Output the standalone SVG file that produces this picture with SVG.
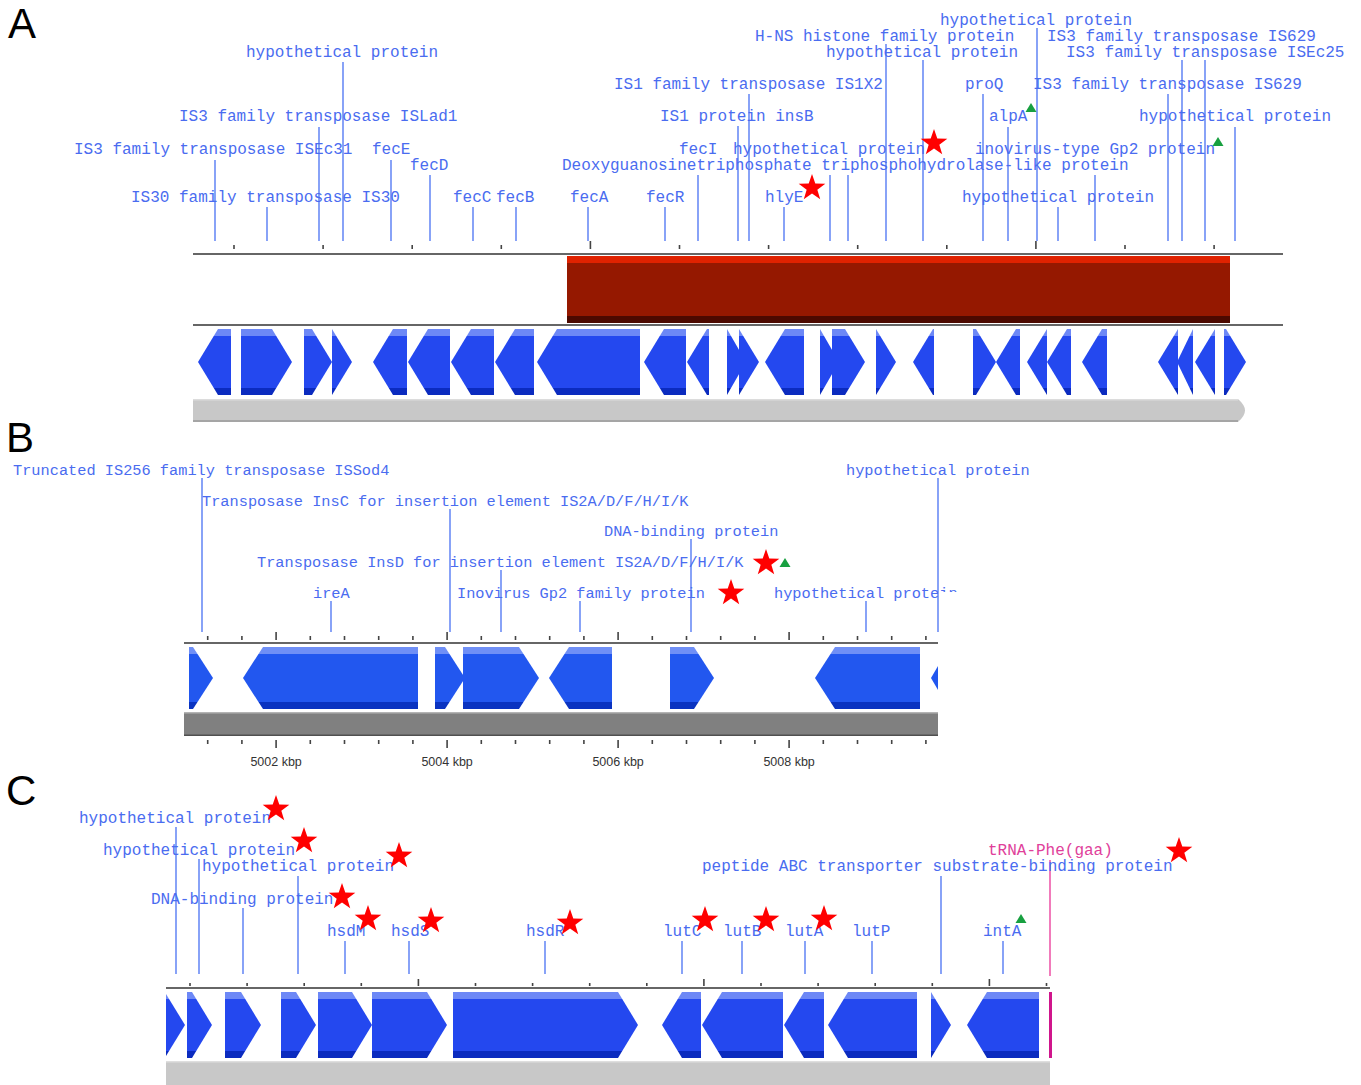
<svg xmlns="http://www.w3.org/2000/svg" width="1361" height="1085" viewBox="0 0 1361 1085">
<style>
.lbl{font-family:"Liberation Mono","Courier New",monospace;font-size:16px;fill:#4a6cf0}
.lb{font-size:15.3px}
.pink{fill:#e0409a}
.lead{stroke:#6b8cf5;stroke-width:1.6;fill:none}
.leadp{stroke:#ee5aaa;stroke-width:1.6;fill:none}
.tick{stroke:#444;stroke-width:1.6;fill:none}
.axis{stroke:#666;stroke-width:2;fill:none}
.panel{font-family:"Liberation Sans",Arial,sans-serif;font-size:42px;fill:#000}
.kbp{font-family:"Liberation Sans",Arial,sans-serif;font-size:12.5px;fill:#333;text-anchor:middle}
.ga{fill:url(#gA)}
.gb{fill:url(#gB)}
.gc{fill:url(#gC)}
.star{fill:#ff0000}
.tri{fill:#18a040}
</style>
<defs>
<linearGradient id="gA" gradientUnits="userSpaceOnUse" x1="0" y1="329" x2="0" y2="395">
<stop offset="0" stop-color="#6d88f6"/><stop offset="0.11" stop-color="#6d88f6"/><stop offset="0.11" stop-color="#2448ef"/><stop offset="0.89" stop-color="#2448ef"/><stop offset="0.89" stop-color="#0b2bbf"/><stop offset="1" stop-color="#0b2bbf"/>
</linearGradient>
<linearGradient id="gB" gradientUnits="userSpaceOnUse" x1="0" y1="647" x2="0" y2="709">
<stop offset="0" stop-color="#6f8ff6"/><stop offset="0.11" stop-color="#6f8ff6"/><stop offset="0.11" stop-color="#2257ef"/><stop offset="0.89" stop-color="#2257ef"/><stop offset="0.89" stop-color="#0a33c0"/><stop offset="1" stop-color="#0a33c0"/>
</linearGradient>
<linearGradient id="gC" gradientUnits="userSpaceOnUse" x1="0" y1="992" x2="0" y2="1058">
<stop offset="0" stop-color="#6d88f6"/><stop offset="0.11" stop-color="#6d88f6"/><stop offset="0.11" stop-color="#2448ef"/><stop offset="0.89" stop-color="#2448ef"/><stop offset="0.89" stop-color="#0b2bbf"/><stop offset="1" stop-color="#0b2bbf"/>
</linearGradient>
<path id="star" d="M0,-14L3.29,-4.53L13.31,-4.33L5.33,1.73L8.23,11.33L0,5.6L-8.23,11.33L-5.33,1.73L-13.31,-4.33L-3.29,-4.53Z"/>
<path id="tri" d="M0,-5L5.5,4L-5.5,4Z"/>
<clipPath id="clipHP">
<rect x="700" y="570" width="238" height="40"/>
<rect x="938" y="570" width="40" height="22"/>
</clipPath>
</defs>

<rect width="1361" height="1085" fill="#fff"/>

<!-- Panel letters -->
<text class="panel" x="8" y="38">A</text>
<text class="panel" x="6" y="452">B</text>
<text class="panel" x="6" y="805">C</text>

<!-- ===== Panel A tracks ===== -->
<g id="trackA">
<path class="tick" d="M234,245V249M323.1,245V249M412.2,245V249M501.3,245V249M590.4,241V249M679.5,245V249M768.6,245V249M857.7,245V249M946.8,245V249M1035.9,241V249M1125,245V249M1214.1,245V249"/>
<line class="axis" x1="193" y1="254" x2="1283" y2="254"/>
<g id="a-region">
<rect x="567" y="256" width="663" height="67" fill="#951800"/>
<rect x="567" y="256" width="663" height="7" fill="#e02200"/>
<rect x="567" y="316" width="663" height="7" fill="#4c0900"/>
</g>
<line class="axis" x1="193" y1="325" x2="1283" y2="325"/>
<g id="a-genes">
<polygon id="a-g1" class="ga" points="231,329 218,329 198,362 218,395 231,395"/>
<polygon id="a-g2" class="ga" points="241,329 272,329 292,362 272,395 241,395"/>
<polygon id="a-g3" class="ga" points="304,329 312,329 332,362 312,395 304,395"/>
<polygon id="a-g4" class="ga" points="332,329 352,362 332,395"/>
<polygon id="a-g5" class="ga" points="407,329 393,329 373,362 393,395 407,395"/>
<polygon id="a-g6" class="ga" points="450,329 428,329 408,362 428,395 450,395"/>
<polygon id="a-g7" class="ga" points="494,329 471,329 451,362 471,395 494,395"/>
<polygon id="a-g8" class="ga" points="534,329 515,329 495,362 515,395 534,395"/>
<polygon id="a-g9" class="ga" points="640,329 557,329 537,362 557,395 640,395"/>
<polygon id="a-g10" class="ga" points="686,329 664,329 644,362 664,395 686,395"/>
<polygon id="a-g11" class="ga" points="709,329 707,329 687,362 707,395 709,395"/>
<polygon id="a-g12" class="ga" points="727,329 746,362 727,395"/>
<polygon id="a-g13" class="ga" points="739,329 759,362 739,395"/>
<polygon id="a-g14" class="ga" points="804,329 785,329 765,362 785,395 804,395"/>
<polygon id="a-g15" class="ga" points="820,329 839,362 820,395"/>
<polygon id="a-g16" class="ga" points="832,329 845,329 865,362 845,395 832,395"/>
<polygon id="a-g17" class="ga" points="876,329 896,362 876,395"/>
<polygon id="a-g18" class="ga" points="934,329 933,329 913,362 933,395 934,395"/>
<polygon id="a-g19" class="ga" points="973,329 976,329 996,362 976,395 973,395"/>
<polygon id="a-g20" class="ga" points="1020,329 1016,329 996,362 1016,395 1020,395"/>
<polygon id="a-g21" class="ga" points="1047,329 1027,362 1047,395"/>
<polygon id="a-g22" class="ga" points="1071,329 1067,329 1047,362 1067,395 1071,395"/>
<polygon id="a-g23" class="ga" points="1107,329 1102,329 1082,362 1102,395 1107,395"/>
<polygon id="a-g24" class="ga" points="1178,329 1158,362 1178,395"/>
<polygon id="a-g25" class="ga" points="1193,329 1177,362 1193,395"/>
<polygon id="a-g26" class="ga" points="1215,329 1195,362 1215,395"/>
<polygon id="a-g27" class="ga" points="1224,329 1226,329 1246,362 1226,395 1224,395"/>
</g>
<path id="a-seq" d="M193,399H1238Q1245,405 1245,410.5Q1245,416 1238,422H193Z" fill="#c8c8c8"/>
<path d="M193,421H1238" stroke="#9a9a9a" stroke-width="1.5"/>
<path d="M193,399.7H1238" stroke="#dcdcdc" stroke-width="1.4"/>
</g>

<!-- ===== Panel B tracks ===== -->
<g id="trackB">
<path class="tick" d="M207.7,636V640M241.9,636V640M276.1,632V640M310.3,636V640M344.5,636V640M378.7,636V640M412.9,636V640M447.1,632V640M481.3,636V640M515.5,636V640M549.7,636V640M583.9,636V640M618.1,632V640M652.3,636V640M686.5,636V640M720.7,636V640M754.9,636V640M789.1,632V640M823.3,636V640M857.5,636V640M891.7,636V640M925.9,636V640"/>
<line class="axis" x1="184" y1="643" x2="938" y2="643"/>
<g id="b-genes">
<polygon id="b-g1" class="gb" points="189,647 193,647 213,678 193,709 189,709"/>
<polygon id="b-g2" class="gb" points="418,647 263,647 243,678 263,709 418,709"/>
<polygon id="b-g3" class="gb" points="435,647 445,647 465,678 445,709 435,709"/>
<polygon id="b-g4" class="gb" points="463,647 519,647 539,678 519,709 463,709"/>
<polygon id="b-g5" class="gb" points="612,647 569,647 549,678 569,709 612,709"/>
<polygon id="b-g6" class="gb" points="670,647 694,647 714,678 694,709 670,709"/>
<polygon id="b-g7" class="gb" points="920,647 835,647 815,678 835,709 920,709"/>
<polygon id="b-g8" class="gb" points="938,666 931,678 938,690"/>
</g>
<rect id="b-seq" x="184" y="712" width="754" height="24" fill="#808080"/>
<path d="M184,712.7H938" stroke="#b4b4b4" stroke-width="1.4"/>
<path d="M184,735.3H938" stroke="#505050" stroke-width="1.4"/>
<path class="tick" d="M207.7,740V744M241.9,740V744M276.1,740V748M310.3,740V744M344.5,740V744M378.7,740V744M412.9,740V744M447.1,740V748M481.3,740V744M515.5,740V744M549.7,740V744M583.9,740V744M618.1,740V748M652.3,740V744M686.5,740V744M720.7,740V744M754.9,740V744M789.1,740V748M823.3,740V744M857.5,740V744M891.7,740V744M925.9,740V744"/>
<text class="kbp" x="276.1" y="766">5002 kbp</text>
<text class="kbp" x="447.1" y="766">5004 kbp</text>
<text class="kbp" x="618.1" y="766">5006 kbp</text>
<text class="kbp" x="789.1" y="766">5008 kbp</text>
</g>

<!-- ===== Panel C tracks ===== -->
<g id="trackC">
<path class="tick" d="M190,983V986M247.1,983V986M304.2,983V986M361.3,983V986M418.4,979V986M475.5,983V986M532.6,983V986M589.7,983V986M646.8,983V986M703.9,979V986M761,983V986M818.1,983V986M875.2,983V986M932.3,983V986M989.4,979V986M1046.5,983V986"/>
<line class="axis" x1="166" y1="988" x2="1050" y2="988"/>
<g id="c-genes">
<polygon id="c-g1" class="gc" points="166,994 185,1025 166,1056"/>
<polygon id="c-g2" class="gc" points="187,992 192,992 212,1025 192,1058 187,1058"/>
<polygon id="c-g3" class="gc" points="225,992 241,992 261,1025 241,1058 225,1058"/>
<polygon id="c-g4" class="gc" points="281,992 296,992 316,1025 296,1058 281,1058"/>
<polygon id="c-g5" class="gc" points="318,992 352,992 372,1025 352,1058 318,1058"/>
<polygon id="c-g6" class="gc" points="372,992 427,992 447,1025 427,1058 372,1058"/>
<polygon id="c-g7" class="gc" points="453,992 618,992 638,1025 618,1058 453,1058"/>
<polygon id="c-g8" class="gc" points="701,992 682,992 662,1025 682,1058 701,1058"/>
<polygon id="c-g9" class="gc" points="783,992 722,992 702,1025 722,1058 783,1058"/>
<polygon id="c-g10" class="gc" points="824,992 804,992 784,1025 804,1058 824,1058"/>
<polygon id="c-g11" class="gc" points="917,992 848,992 828,1025 848,1058 917,1058"/>
<polygon id="c-g12" class="gc" points="931,992 951,1025 931,1058"/>
<polygon id="c-g13" class="gc" points="1039,992 987,992 967,1025 987,1058 1039,1058"/>
<rect id="c-trna" x="1049" y="992" width="3" height="66" fill="#d0158c"/>
</g>
<rect id="c-seq" x="166" y="1061" width="884" height="24" fill="#c8c8c8"/>
<path d="M166,1061.7H1050" stroke="#dedede" stroke-width="1.4"/>
</g>

<!-- ===== Connectors (leader lines) ===== -->
<g id="connectors">
<path class="lead" d="M215,160V241M267,207V241M319,127V241M343,62V241M391,160V241M430,175V241M473,207V241M516,207V241M588,207V241M665,207V241M698,175V241M738,126V241M749,94V241M784,207V241M830,175V241M848,175V241M886,44V241M923,60V241M983,94V241M1008,127V241M1037,28V241M1058,207V241M1095,175V241M1168,94V241M1182,60V241M1205,60V241M1235,127V241"/>
<path class="lead" d="M202,478V632M450,509V632M691,539V632M501,570V632M331,601V632M580,601V632M866,601V632M938,478V632"/>
<path class="lead" d="M176,827V974M199,859V974M298,876V974M243,908V974M345,941V974M409,941V974M545,941V974M682,941V974M742,941V974M805,941V974M872,941V974M941,876V974M1003,941V974"/>
<path class="leadp" d="M1050,860V976"/>
</g>

<!-- ===== Panel A labels ===== -->
<g id="labelsA">
<text id="a-l1" class="lbl" x="246" y="57">hypothetical protein</text>
<text id="a-l2" class="lbl" x="179" y="121">IS3 family transposase ISLad1</text>
<text id="a-l3" class="lbl" x="74" y="154">IS3 family transposase ISEc31</text>
<text id="a-l4" class="lbl" x="372" y="154">fecE</text>
<text id="a-l5" class="lbl" x="410" y="170">fecD</text>
<text id="a-l6" class="lbl" x="131" y="202">IS30 family transposase IS30</text>
<text id="a-l7" class="lbl" x="453" y="202">fecC</text>
<text id="a-l8" class="lbl" x="496" y="202">fecB</text>
<text id="a-l9" class="lbl" x="570" y="202">fecA</text>
<text id="a-l10" class="lbl" x="646" y="202">fecR</text>
<text id="a-l11" class="lbl" x="765" y="202">hlyE</text>
<text id="a-l12" class="lbl" x="614" y="89">IS1 family transposase IS1X2</text>
<text id="a-l13" class="lbl" x="660" y="121">IS1 protein insB</text>
<text id="a-l14" class="lbl" x="679" y="154">fecI</text>
<text id="a-l15" class="lbl" x="733" y="154">hypothetical protein</text>
<text id="a-l16" class="lbl" x="562" y="170">Deoxyguanosinetriphosphate triphosphohydrolase-like protein</text>
<text id="a-l17" class="lbl" x="755" y="41">H-NS histone family protein</text>
<text id="a-l18" class="lbl" x="826" y="57">hypothetical protein</text>
<text id="a-l19" class="lbl" x="940" y="25">hypothetical protein</text>
<text id="a-l20" class="lbl" x="1047" y="41">IS3 family transposase IS629</text>
<text id="a-l21" class="lbl" x="1066" y="57">IS3 family transposase ISEc25</text>
<text id="a-l22" class="lbl" x="965" y="89">proQ</text>
<text id="a-l23" class="lbl" x="1033" y="89">IS3 family transposase IS629</text>
<text id="a-l24" class="lbl" x="989" y="121">alpA</text>
<text id="a-l25" class="lbl" x="1139" y="121">hypothetical protein</text>
<text id="a-l26" class="lbl" x="975" y="154">inovirus-type Gp2 protein</text>
<text id="a-l27" class="lbl" x="962" y="202">hypothetical protein</text>
</g>

<!-- ===== Panel B labels ===== -->
<g id="labelsB">
<text id="b-l1" class="lbl lb" x="13" y="475">Truncated IS256 family transposase ISSod4</text>
<text id="b-l2" class="lbl lb" x="202" y="506">Transposase InsC for insertion element IS2A/D/F/H/I/K</text>
<text id="b-l3" class="lbl lb" x="604" y="536">DNA-binding protein</text>
<text id="b-l4" class="lbl lb" x="257" y="567">Transposase InsD for insertion element IS2A/D/F/H/I/K</text>
<text id="b-l5" class="lbl lb" x="313" y="598">ireA</text>
<text id="b-l6" class="lbl lb" x="457" y="598">Inovirus Gp2 family protein</text>
<text id="b-l7" class="lbl lb" x="846" y="475">hypothetical protein</text>
<text id="b-l8" class="lbl lb" x="774" y="598" clip-path="url(#clipHP)">hypothetical protein</text>
</g>

<!-- ===== Panel C labels ===== -->
<g id="labelsC">
<text id="c-l1" class="lbl" x="79" y="823">hypothetical protein</text>
<text id="c-l2" class="lbl" x="103" y="855">hypothetical protein</text>
<text id="c-l3" class="lbl" x="202" y="871">hypothetical protein</text>
<text id="c-l4" class="lbl" x="151" y="904">DNA-binding protein</text>
<text id="c-l5" class="lbl" x="327" y="936">hsdM</text>
<text id="c-l6" class="lbl" x="391" y="936">hsdS</text>
<text id="c-l7" class="lbl" x="526" y="936">hsdR</text>
<text id="c-l8" class="lbl" x="663" y="936">lutC</text>
<text id="c-l9" class="lbl" x="723" y="936">lutB</text>
<text id="c-l10" class="lbl" x="785" y="936">lutA</text>
<text id="c-l11" class="lbl" x="852" y="936">lutP</text>
<text id="c-l12" class="lbl" x="983" y="936">intA</text>
<text id="c-l13" class="lbl" x="702" y="871">peptide ABC transporter substrate-binding protein</text>
<text id="c-l14" class="lbl pink" x="988" y="855">tRNA-Phe(gaa)</text>
</g>

<!-- ===== Markers: stars and triangles ===== -->
<g id="markers">
<use href="#star" class="star" x="934" y="143"/>
<use href="#star" class="star" x="812" y="188"/>
<use href="#tri" class="tri" x="1031" y="108"/>
<use href="#tri" class="tri" x="1218" y="142"/>
<use href="#star" class="star" x="766" y="563"/>
<use href="#star" class="star" x="731" y="593"/>
<use href="#tri" class="tri" x="785" y="563"/>
<use href="#star" class="star" x="276" y="809"/>
<use href="#star" class="star" x="304" y="841"/>
<use href="#star" class="star" x="399" y="856"/>
<use href="#star" class="star" x="342" y="897"/>
<use href="#star" class="star" x="368" y="919"/>
<use href="#star" class="star" x="431" y="921"/>
<use href="#star" class="star" x="570" y="923"/>
<use href="#star" class="star" x="705" y="920"/>
<use href="#star" class="star" x="766" y="920"/>
<use href="#star" class="star" x="824" y="919"/>
<use href="#star" class="star" x="1179" y="851"/>
<use href="#tri" class="tri" x="1021" y="919"/>
</g>
</svg>
